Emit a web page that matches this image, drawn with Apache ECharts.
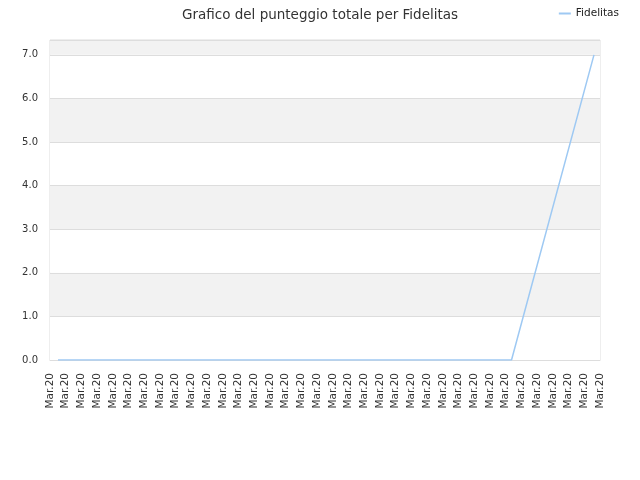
<!DOCTYPE html>
<html><head><meta charset="utf-8">
<script src="https://cdn.jsdelivr.net/npm/echarts@6/dist/echarts.min.js"></script>
<style>html,body{margin:0;padding:0;background:#fff}#c{width:640px;height:480px}</style>
</head><body><div id="c"></div>
<script>
var titleText = 'Grafico del punteggio totale per Fidelitas';
var seriesName = 'Fidelitas';
var tickLabels = [];
for (var i = 0; i < 36; i++) tickLabels.push('Mar.20');
var matchIndex = [0,1,2,3,4,5,6,7,8,9,10,11,13];
var scores = [0,0,0,0,0,0,0,0,0,0,0,0,7];
var points = matchIndex.map(function(x, i){ return [x, scores[i]]; });

var chart = echarts.init(document.getElementById('c'));
chart.setOption({
  animation: false,
  backgroundColor: '#fff',
  title: { text: titleText, left: 'center', top: 3,
    textStyle: { fontFamily: 'DejaVu Sans', fontSize: 13.5, fontWeight: 'normal', color: '#333' } },
  legend: { right: 16, top: 3, itemWidth: 12, itemHeight: 2, itemGap: 6,
    data: [{ name: seriesName, icon: 'rect' }],
    textStyle: { fontFamily: 'DejaVu Sans', fontSize: 10.5, color: '#222' } },
  grid: { left: 50, right: 40, top: 40, bottom: 120, show: true, borderColor: '#dddddd', borderWidth: 1, backgroundColor: 'transparent' },
  xAxis: [{
    type: 'category', data: tickLabels, boundaryGap: false,
    axisLine: { show: true, lineStyle: { color: '#dddddd' } }, axisTick: { show: false },
    axisLabel: { interval: 0, rotate: 90, margin: 13, fontFamily: 'DejaVu Sans', fontSize: 10.5, color: '#333' },
    splitLine: { show: false }
  }, {
    type: 'value', min: -0.194, max: 13.146, show: false, splitLine: { show: false }
  }],
  yAxis: {
    type: 'value', min: 0, max: 7.34, interval: 1,
    axisLine: { show: false }, axisTick: { show: false },
    axisLabel: { margin: 12, fontFamily: 'DejaVu Sans', fontSize: 10, color: '#333',
      formatter: function(v){ return Math.abs(v - Math.round(v)) < 1e-9 ? v.toFixed(1) : ''; } },
    splitLine: { show: true, lineStyle: { color: '#dddddd', width: 1 } },
    splitArea: { show: true, areaStyle: { color: ['#ffffff', '#f2f2f2'] } }
  },
  series: [{
    name: seriesName, type: 'line', xAxisIndex: 1, data: points,
    showSymbol: false, symbol: 'none',
    lineStyle: { color: '#9ec9f3', width: 1.5 }, itemStyle: { color: '#9ec9f3' }
  }]
});
</script></body></html>
